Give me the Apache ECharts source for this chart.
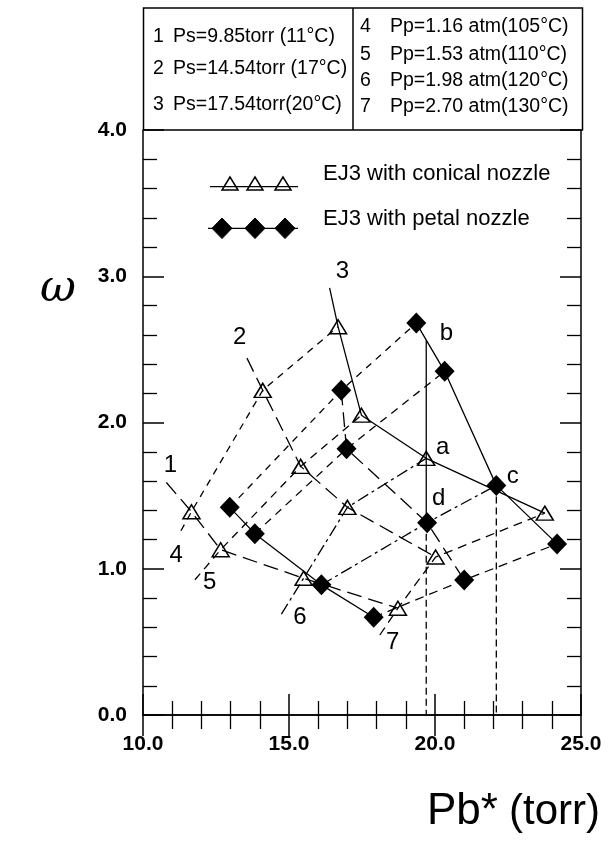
<!DOCTYPE html>
<html>
<head>
<meta charset="utf-8">
<script src="https://cdn.jsdelivr.net/npm/echarts@6/dist/echarts.min.js"></script>
<style>
  html, body { margin: 0; padding: 0; background: #fff; }
  #main { width: 613px; height: 842px; }
</style>
</head>
<body>
<div id="main"></div>
<script>
// conical nozzle (open triangles), rows = Ps curve 1..3, columns = Pp curve 4..7
const conicalX = [
  [11.66, 12.66, 15.50, 18.73],
  [14.10, 15.40, 17.00, 20.02],
  [16.68, 17.48, 19.70, 23.76]
];
const conicalY = [
  [1.39, 1.13, 0.935, 0.73],
  [2.22, 1.70, 1.42, 1.08],
  [2.655, 2.05, 1.755, 1.38]
];
// petal nozzle (filled diamonds), same layout
const petalX = [
  [12.97, 13.83, 16.11, 17.90],
  [16.79, 16.97, 19.73, 21.00],
  [19.36, 20.33, 22.10, 24.18]
];
const petalY = [
  [1.42, 1.24, 0.89, 0.668],
  [2.22, 1.82, 1.315, 0.923],
  [2.68, 2.35, 1.57, 1.17]
];
// where the labelled curves begin (before first point)
const psStart = [[10.80, 1.59], [13.56, 2.44], [16.39, 2.92]];
const ppStart = [[11.30, 1.26], [11.78, 0.925], [14.74, 0.69], [18.11, 0.547]];

// curve numbers and point letters
const curveNames = ['1', '2', '3', '4', '5', '6', '7', 'a', 'b', 'c', 'd'];
const curveNameX = [10.94, 13.31, 16.83, 11.14, 12.28, 15.37, 18.55, 20.26, 20.39, 22.66, 20.13];
const curveNameY = [1.71, 2.58, 3.03, 1.09, 0.91, 0.67, 0.50, 1.83, 2.61, 1.63, 1.48];

// vertical guide lines down to the axis
const guideX = [19.70, 22.10];
const guideTop = [2.56, 1.57];
const guideBreak = 1.315;

// legend box text
const psRows = ['Ps=9.85torr (11°C)', 'Ps=14.54torr (17°C)', 'Ps=17.54torr(20°C)'];
const ppRows = ['Pp=1.16 atm(105°C)', 'Pp=1.53 atm(110°C)', 'Pp=1.98 atm(120°C)', 'Pp=2.70 atm(130°C)'];

const FONT = "'Liberation Sans', Arial, sans-serif";
const SOLID = 'solid';
const LONGDASH = [15, 7];
const ppDash = [[7, 6], [8, 6], [12, 4, 3, 4], [9, 6]];
const psDashConical = [LONGDASH, LONGDASH, SOLID];
const psDashPetal = [SOLID, LONGDASH, SOLID];

const pts = (xs, ys) => xs.map((x, i) => [x, ys[i]]);

const lineSeries = (data, type) => ({
  type: 'line',
  data: data,
  showSymbol: false,
  symbol: 'none',
  silent: true,
  z: 2,
  lineStyle: { color: '#000', width: 1.3, type: type, opacity: 1 }
});

const series = [];
for (let i = 0; i < 3; i++) {
  series.push(lineSeries([psStart[i]].concat(pts(conicalX[i], conicalY[i])), psDashConical[i]));
  series.push(lineSeries(pts(petalX[i], petalY[i]), psDashPetal[i]));
}
for (let j = 0; j < 4; j++) {
  const c = [ppStart[j]];
  const p = [];
  for (let i = 0; i < 3; i++) {
    c.push([conicalX[i][j], conicalY[i][j]]);
    p.push([petalX[i][j], petalY[i][j]]);
  }
  series.push(lineSeries(c, ppDash[j]));
  series.push(lineSeries(p, ppDash[j]));
}
// guides
series.push(lineSeries([[guideX[0], guideTop[0]], [guideX[0], guideBreak]], SOLID));
series.push(lineSeries([[guideX[0], guideBreak], [guideX[0], 0]], [7, 4]));
series.push(lineSeries([[guideX[1], guideTop[1]], [guideX[1], 0]], [7, 4]));

// markers
series.push({
  type: 'scatter',
  data: [].concat(...conicalX.map((r, i) => pts(r, conicalY[i]))),
  symbol: 'triangle',
  symbolSize: [17, 14],
  z: 5,
  itemStyle: { color: 'rgba(0,0,0,0)', borderColor: '#000', borderWidth: 1.5, opacity: 1 }
});
series.push({
  type: 'scatter',
  data: [].concat(...petalX.map((r, i) => pts(r, petalY[i]))),
  symbol: 'diamond',
  symbolSize: [20, 21],
  z: 6,
  itemStyle: { color: '#000', opacity: 1 }
});
// curve labels
series.push({
  type: 'scatter',
  data: curveNames.map((n, i) => ({ name: n, value: [curveNameX[i], curveNameY[i]] })),
  symbolSize: 1,
  z: 7,
  itemStyle: { color: 'rgba(0,0,0,0)', opacity: 1 },
  label: {
    show: true, position: 'inside', formatter: '{b}', opacity: 1,
    color: '#000', fontSize: 24, fontFamily: FONT
  }
});

const axisCommon = {
  type: 'value',
  splitLine: { show: false },
  axisLine: { show: true, lineStyle: { color: '#000', width: 1.5 } },
  axisTick: { show: true, inside: true, length: 21, lineStyle: { color: '#000', width: 1.5 } },
  minorTick: { show: true, splitNumber: 5, length: 14, lineStyle: { color: '#000', width: 1.3 } }
};
const tickLabel = {
  color: '#000', fontSize: 21, fontFamily: FONT, fontWeight: 'bold',
  formatter: v => v.toFixed(1)
};

// box above the plot
const BOXFONT = '19.5px ' + FONT;
const graphic = [
  { type: 'rect', shape: { x: 143.5, y: 8, width: 439, height: 122 },
    style: { fill: 'none', stroke: '#000', lineWidth: 1.5 } },
  { type: 'line', shape: { x1: 353, y1: 8, x2: 353, y2: 130 },
    style: { stroke: '#000', lineWidth: 1.5 } }
];
const leftRowY = [36.7, 68.3, 105];
const rightRowY = [27, 55, 81, 107];
psRows.forEach((t, i) => {
  graphic.push({ type: 'text', style: { x: 153, y: leftRowY[i], text: String(i + 1), font: BOXFONT, fill: '#000', verticalAlign: 'middle' } });
  graphic.push({ type: 'text', style: { x: 173, y: leftRowY[i], text: t, font: BOXFONT, fill: '#000', verticalAlign: 'middle' } });
});
ppRows.forEach((t, i) => {
  graphic.push({ type: 'text', style: { x: 360, y: rightRowY[i], text: String(i + 4), font: BOXFONT, fill: '#000', verticalAlign: 'middle' } });
  graphic.push({ type: 'text', style: { x: 390, y: rightRowY[i], text: t, font: BOXFONT, fill: '#000', verticalAlign: 'middle' } });
});

// legend inside the plot
graphic.push({ type: 'line', shape: { x1: 210, y1: 186.7, x2: 298, y2: 186.7 }, style: { stroke: '#000', lineWidth: 1.3 } });
[230, 255, 283].forEach(cx => {
  graphic.push({ type: 'polygon', shape: { points: [[cx, 177], [cx - 8, 190], [cx + 8, 190]] },
    style: { fill: 'none', stroke: '#000', lineWidth: 1.5 } });
});
graphic.push({ type: 'text', style: { x: 323, y: 174, text: 'EJ3 with conical nozzle', font: '22px ' + FONT, fill: '#000', verticalAlign: 'middle' } });
graphic.push({ type: 'line', shape: { x1: 208, y1: 228.3, x2: 298, y2: 228.3 }, style: { stroke: '#000', lineWidth: 1.3 } });
[222, 255, 285].forEach(cx => {
  graphic.push({ type: 'polygon', shape: { points: [[cx, 218], [cx + 10, 228.3], [cx, 238.6], [cx - 10, 228.3]] },
    style: { fill: '#000', stroke: '#000', lineWidth: 1 } });
});
graphic.push({ type: 'text', style: { x: 323, y: 219, text: 'EJ3 with petal nozzle', font: '22px ' + FONT, fill: '#000', verticalAlign: 'middle' } });

// axis names
graphic.push({ type: 'text', style: { x: 58, y: 290, text: 'ω', font: 'italic 44px "DejaVu Serif", serif', fill: '#000', align: 'center', verticalAlign: 'middle' } });
graphic.push({ type: 'text', style: { x: 427, y: 812, text: 'Pb*', font: '44px ' + FONT, fill: '#000', verticalAlign: 'middle' } });
graphic.push({ type: 'text', style: { x: 600, y: 812, text: '(torr)', font: '42px ' + FONT, fill: '#000', align: 'right', verticalAlign: 'middle' } });

const chart = echarts.init(document.getElementById('main'), null, { renderer: 'canvas' });
chart.setOption({
  animation: false,
  backgroundColor: '#fff',
  grid: { left: 143, right: 32, top: 130, bottom: 127, outerBoundsMode: 'none' },
  xAxis: [
    Object.assign({}, axisCommon, { min: 10, max: 25, interval: 5, position: 'bottom',
      axisLabel: Object.assign({}, tickLabel, { margin: 19 }) }),
    Object.assign({}, axisCommon, { min: 10, max: 25, interval: 5, position: 'top',
      axisLabel: { show: false } })
  ],
  yAxis: [
    Object.assign({}, axisCommon, { min: 0, max: 4, interval: 1, position: 'left',
      axisLabel: Object.assign({}, tickLabel, { margin: 16 }) }),
    Object.assign({}, axisCommon, { min: 0, max: 4, interval: 1, position: 'right',
      axisLabel: { show: false } })
  ],
  graphic: graphic,
  series: series
});
</script>
</body>
</html>
